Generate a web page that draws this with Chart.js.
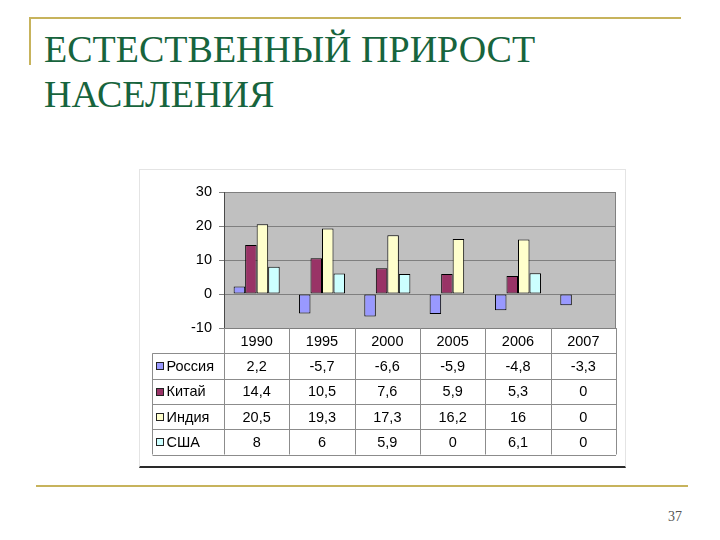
<!DOCTYPE html>
<html>
<head>
<meta charset="utf-8">
<script src="https://cdn.jsdelivr.net/npm/chart.js@4"></script>
<style>
  body { margin: 0; width: 720px; height: 540px; background: #fff; position: relative; overflow: hidden; }
  .gold { position: absolute; background: #c7b35c; }
  #title { position: absolute; left: 44px; top: 27px; margin: 0; font: normal 38px/45px "Liberation Serif", "Times New Roman", serif; color: #17643d; white-space: nowrap; }
  #box { position: absolute; left: 139px; top: 169px; width: 485px; height: 296px; border: 1px solid #e4e4e4; border-bottom: 2px solid #2a2a2a; }
  #wrap { position: relative; width: 485px; height: 296px; }
  #page { position: absolute; left: 668px; top: 509px; font: 14px "Liberation Serif", serif; color: #555; }
</style>
</head>
<body>
<div class="gold" style="left:29px; top:17px; width:652px; height:2px;"></div>
<div class="gold" style="left:29px; top:17px; width:2px; height:48px;"></div>
<h1 id="title">ЕСТЕСТВЕННЫЙ ПРИРОСТ<br>НАСЕЛЕНИЯ</h1>

<div id="box"><div id="wrap"><canvas id="chart"></canvas></div></div>

<div class="gold" style="left:36px; top:485px; width:652px; height:2px;"></div>
<div id="page">37</div>

<script>
const years = ["1990", "1995", "2000", "2005", "2006", "2007"];
const seriesNames = ["Россия", "Китай", "Индия", "США"];
const russia = [2.2, -5.7, -6.6, -5.9, -4.8, -3.3];
const china = [14.4, 10.5, 7.6, 5.9, 5.3, 0];
const india = [20.5, 19.3, 17.3, 16.2, 16, 0];
const usa = [8, 6, 5.9, 0, 6.1, 0];
const seriesColors = ["#9999ff", "#993366", "#ffffcc", "#ccffff"];
const yMin = -10, yMax = 30, yStep = 10;

const allSeries = [russia, china, india, usa];
const fmt = (v) => String(v).replace(".", ",");

Chart.defaults.font.family = "'Liberation Sans', Arial, sans-serif";
Chart.defaults.font.size = 14;
Chart.defaults.color = "#000";

// grey plot background + frame
const plotBg = {
  id: "plotBg",
  beforeDraw(chart) {
    const { ctx, chartArea: a } = chart;
    ctx.save();
    ctx.fillStyle = "#c0c0c0";
    ctx.fillRect(a.left, a.top, a.right - a.left, a.bottom - a.top);
    ctx.restore();
  },
  afterDatasetsDraw(chart) {
    const { ctx, chartArea: a } = chart;
    ctx.save();
    ctx.strokeStyle = "#808080";
    ctx.lineWidth = 1;
    ctx.beginPath();
    ctx.moveTo(Math.round(a.right) - 0.5, a.top);
    ctx.lineTo(Math.round(a.right) - 0.5, a.bottom);
    ctx.stroke();
    ctx.restore();
  },
};

// data table under the plot, columns taken from the x scale
const dataTable = {
  id: "dataTable",
  afterDraw(chart) {
    const { ctx, chartArea: a, scales: { x } } = chart;
    const rowH = 25.3;
    const top = a.bottom;
    const bottom = top + rowH * (seriesNames.length + 1);
    const legendLeft = Math.round(a.left - 72) + 0.5;
    const px = (v) => Math.round(v) + 0.5;

    ctx.save();
    ctx.strokeStyle = "#8c8c8c";
    ctx.lineWidth = 1;
    ctx.beginPath();
    for (let i = 0; i <= years.length; i++) {
      const xx = px(x.getPixelForValue(i - 0.5));
      ctx.moveTo(xx, top);
      ctx.lineTo(xx, bottom);
    }
    ctx.moveTo(legendLeft, top + rowH);
    ctx.lineTo(legendLeft, bottom);
    for (let r = 1; r <= seriesNames.length + 1; r++) {
      const yy = px(top + rowH * r);
      ctx.moveTo(legendLeft, yy);
      ctx.lineTo(a.right, yy);
    }
    ctx.stroke();

    ctx.fillStyle = "#000";
    ctx.font = "14.5px 'Liberation Sans', Arial, sans-serif";
    ctx.textBaseline = "middle";
    ctx.textAlign = "center";
    years.forEach((y, i) => {
      ctx.fillText(y, x.getPixelForValue(i), top + rowH / 2 + 1);
    });
    allSeries.forEach((vals, r) => {
      const cy = top + rowH * (r + 1.5) + 1;
      vals.forEach((v, i) => ctx.fillText(fmt(v), x.getPixelForValue(i), cy));
    });

    ctx.textAlign = "left";
    seriesNames.forEach((name, r) => {
      const cy = top + rowH * (r + 1.5);
      const ky = Math.round(cy - 3.5) + 0.5;
      ctx.fillStyle = seriesColors[r];
      ctx.fillRect(legendLeft + 4, ky, 7, 7);
      ctx.strokeStyle = "#222";
      ctx.strokeRect(legendLeft + 4, ky, 7, 7);
      ctx.fillStyle = "#000";
      ctx.fillText(name, legendLeft + 14, cy + 1);
    });
    ctx.restore();
  },
};

new Chart(document.getElementById("chart"), {
  type: "bar",
  data: {
    labels: years,
    datasets: seriesNames.map((name, i) => ({
      label: name,
      data: allSeries[i],
      backgroundColor: seriesColors[i],
      borderColor: "#000",
      borderWidth: 1,
      borderSkipped: false,
      categoryPercentage: 0.705,
      barPercentage: 1,
    })),
  },
  options: {
    responsive: true,
    maintainAspectRatio: false,
    animation: false,
    layout: { padding: { left: 0, right: 9, top: 22, bottom: 138 } },
    plugins: { legend: { display: false }, tooltip: { enabled: false } },
    scales: {
      x: { display: false },
      y: {
        min: yMin,
        max: yMax,
        ticks: { stepSize: yStep, padding: 7, color: "#000", font: { size: 14.5 } },
        grid: { color: "#7f7f7f", lineWidth: 1, tickLength: 5 },
        border: { color: "#4a4a4a" },
        afterFit(scale) { scale.width = 84; },
      },
    },
  },
  plugins: [plotBg, dataTable],
});
</script>
</body>
</html>
